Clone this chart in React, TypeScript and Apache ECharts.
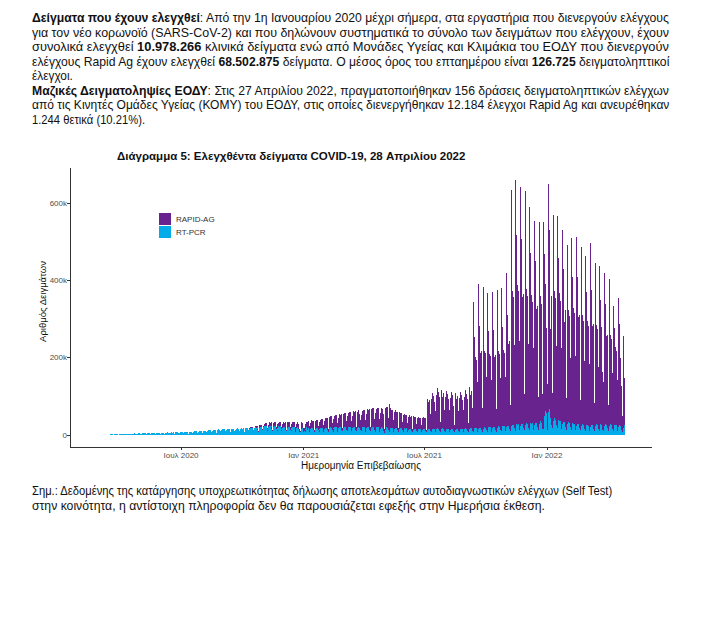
import React, { useEffect, useLayoutEffect, useRef } from "react";
import * as echarts from "echarts";

// ---------- DATA (daily counts, in thousands) ----------
const axisStart = "2020-01-17";
const axisEnd = "2022-06-07";
const pcrStart = "2020-02-26";
const rapidStart = "2020-10-12";

const xTickDates = ["2020-07-01", "2021-01-01", "2021-07-01", "2022-01-01"];
const xTickLabels = ["Ιουλ 2020", "Ιαν 2021", "Ιουλ 2021", "Ιαν 2022"];
const yTickValues = [0, 200000, 400000, 600000];
const yTickLabels = ["0", "200k", "400k", "600k"];

const seriesNames = ["RT-PCR", "RAPID-AG"];

// RT-PCR, from 26 Feb 2020 (rows are Mon..Sun weeks)
const pcr2020 = [
  0.1, 0.1, 0.2, 0.2, 0.1,
  0.2, 0.3, 0.3, 0.4, 0.5, 0.4, 0.3,
  0.6, 0.7, 0.9, 1.0, 1.1, 0.8, 0.5,
  1.2, 1.4, 1.5, 1.6, 1.5, 1.1, 0.8,
  1.7, 1.9, 2.0, 1.8, 2.1, 1.4, 1.0,
  2.2, 2.4, 2.6, 2.3, 2.5, 1.8, 1.2,
  2.8, 3.0, 2.9, 3.2, 3.1, 2.0, 1.4,
  2.5, 3.3, 3.5, 3.4, 3.6, 2.4, 1.6,
  3.2, 3.8, 4.0, 3.7, 3.9, 2.6, 1.8,
  3.6, 4.2, 4.4, 4.1, 3.5, 2.5, 1.7,
  4.0, 4.6, 4.8, 5.0, 4.7, 3.0, 2.0,
  4.5, 5.2, 5.4, 5.1, 5.3, 3.4, 2.2,
  4.8, 5.6, 5.3, 5.8, 5.5, 3.5, 2.4,
  5.0, 5.9, 6.1, 5.7, 6.0, 3.8, 2.5,
  5.2, 6.0, 6.3, 6.1, 5.8, 3.9, 2.6,
  5.5, 6.4, 6.2, 6.6, 6.3, 4.0, 2.8,
  5.6, 6.5, 6.8, 6.4, 6.7, 4.2, 2.9,
  6.0, 7.0, 7.2, 6.9, 7.1, 4.5, 3.0,
  6.4, 7.5, 7.8, 7.3, 7.6, 4.9, 3.2,
  7.0, 8.2, 8.0, 8.5, 8.3, 5.4, 3.5,
  7.6, 8.8, 9.1, 8.7, 9.0, 5.8, 3.8,
  8.1, 9.3, 9.6, 9.0, 9.4, 6.1, 4.0,
  8.5, 9.8, 10.2, 9.7, 10.0, 6.5, 4.3,
  9.2, 10.6, 11.0, 10.4, 10.8, 7.0, 4.8,
  10.0, 11.8, 12.3, 11.5, 12.0, 7.9, 5.3,
  11.2, 13.1, 13.6, 12.8, 13.3, 8.6, 5.8,
  12.0, 14.0, 14.5, 13.7, 14.1, 9.2, 6.2,
  12.5, 14.6, 15.0, 14.2, 14.8, 9.6, 6.5,
  13.0, 15.2, 15.8, 14.9, 15.4, 10.0, 6.8,
  13.6, 15.9, 16.4, 15.5, 16.0, 10.5, 7.1,
  14.1, 16.5, 17.0, 16.1, 16.6, 10.9, 7.4,
  14.8, 17.2, 17.8, 16.8, 17.3, 11.3, 7.7,
  15.4, 18.0, 18.6, 17.6, 18.1, 11.8, 8.0,
  16.2, 18.9, 19.5, 18.4, 19.0, 12.4, 8.4,
  17.0, 19.8, 20.6, 19.4, 20.1, 13.1, 8.9,
  18.2, 21.2, 22.0, 20.7, 21.5, 14.0, 9.5,
  19.5, 22.8, 23.6, 22.3, 23.0, 15.0, 10.2,
  20.4, 23.8, 24.6, 23.2, 24.0, 15.6, 10.6,
  20.0, 23.4, 24.2, 22.8, 23.5, 15.3, 10.4,
  19.2, 22.4, 23.1, 21.9, 22.6, 14.7, 10.0,
  18.4, 21.5, 22.2, 21.0, 21.6, 14.1, 9.6,
  17.8, 20.8, 21.4, 20.3, 20.9, 13.6, 9.3,
  17.2, 20.1, 20.7, 19.6, 20.2, 13.2, 9.0,
  17.0, 19.8, 20.3, 16.5, 10.2, 8.0, 8.5,
  16.4, 19.0, 18.2, 12.0, 9.0, 11.5, 8.8,
];

// RT-PCR, weeks from Mon 4 Jan 2021
const pcr2021 = [
  16.8, 19.5, 13.0, 18.9, 19.4, 12.7, 8.6,
  16.5, 19.2, 19.8, 18.7, 19.3, 12.6, 8.5,
  16.0, 18.6, 19.1, 18.1, 18.7, 12.2, 8.3,
  15.7, 18.3, 18.9, 17.8, 18.4, 12.0, 8.1,
  16.2, 18.9, 19.5, 18.4, 19.0, 12.4, 8.4,
  17.0, 19.9, 20.5, 19.3, 20.0, 13.0, 8.8,
  17.5, 20.4, 21.0, 19.8, 20.5, 13.4, 9.0,
  18.0, 21.0, 21.6, 20.4, 21.1, 13.7, 9.3,
  18.3, 21.4, 22.0, 20.8, 21.5, 14.0, 9.5,
  18.6, 21.8, 22.5, 21.2, 21.9, 14.3, 9.7,
  18.4, 21.5, 22.1, 20.9, 21.6, 14.1, 9.5,
  18.0, 21.0, 21.7, 17.0, 20.5, 12.8, 9.2,
  17.5, 20.5, 21.1, 19.9, 20.6, 13.4, 9.0,
  17.9, 20.9, 21.5, 20.3, 21.0, 13.7, 9.2,
  17.6, 20.6, 21.2, 20.0, 20.7, 13.5, 9.1,
  17.2, 20.1, 20.7, 19.5, 20.2, 13.2, 8.9,
  16.8, 19.6, 20.2, 19.0, 15.5, 11.0, 6.5,
  14.0, 19.0, 19.6, 18.5, 19.1, 12.4, 8.4,
  16.5, 19.3, 19.9, 18.8, 19.4, 12.6, 8.5,
  16.0, 18.7, 19.3, 18.2, 18.8, 12.3, 8.3,
  15.4, 18.0, 18.6, 17.5, 18.1, 11.8, 8.0,
  14.8, 17.3, 17.8, 16.8, 17.4, 11.3, 7.7,
  14.2, 16.6, 17.1, 16.1, 16.7, 10.9, 7.4,
  13.7, 16.0, 16.5, 15.6, 16.1, 10.5, 7.1,
  13.2, 15.4, 15.9, 15.0, 15.5, 10.1, 6.9,
  13.0, 15.2, 15.6, 14.8, 15.3, 10.0, 6.8,
  13.5, 15.8, 16.3, 15.4, 15.9, 10.4, 7.0,
  14.2, 16.6, 17.1, 16.2, 16.7, 10.9, 7.4,
  14.6, 17.1, 17.6, 16.6, 17.2, 11.2, 7.6,
  14.4, 16.8, 17.3, 16.4, 16.9, 11.0, 7.5,
  14.0, 16.4, 16.9, 15.9, 16.5, 10.7, 7.3,
  13.6, 15.9, 16.4, 15.5, 12.0, 10.4, 7.0,
  13.4, 15.7, 16.2, 15.3, 15.8, 10.3, 7.0,
  13.8, 16.2, 16.7, 15.7, 16.3, 10.6, 7.2,
  14.4, 16.9, 17.4, 16.4, 17.0, 11.1, 7.5,
  15.0, 17.6, 18.1, 17.1, 17.7, 11.5, 7.8,
  16.0, 18.7, 19.2, 18.2, 18.8, 12.2, 8.3,
  16.5, 19.3, 19.9, 18.8, 19.4, 12.6, 8.5,
  16.8, 19.7, 20.3, 19.1, 19.8, 12.9, 8.7,
  17.2, 20.1, 20.7, 19.5, 20.2, 13.1, 8.9,
  17.6, 20.6, 21.2, 20.0, 20.7, 13.4, 9.1,
  18.4, 21.6, 22.2, 20.9, 21.6, 14.0, 9.5,
  19.5, 22.8, 23.5, 22.2, 22.9, 14.9, 10.1,
  21.0, 24.6, 25.3, 23.9, 24.7, 16.0, 10.9,
  22.5, 26.3, 27.1, 25.6, 26.4, 17.2, 11.6,
  23.8, 27.8, 28.7, 27.1, 27.9, 18.2, 12.3,
  24.6, 28.8, 29.6, 28.0, 28.8, 18.8, 12.7,
  25.2, 29.5, 30.4, 28.7, 29.6, 19.2, 13.0,
  25.8, 30.2, 31.1, 29.4, 30.3, 19.7, 13.3,
  26.5, 31.0, 31.9, 30.2, 31.1, 20.2, 13.7,
  29.0, 34.0, 36.5, 38.0, 30.0, 15.0, 16.0,
  38.0, 48.0, 62.0, 80.0, 58.0, 14.0, 22.0,
];

// RT-PCR, weeks from Mon 3 Jan 2022
const pcr2022 = [
  60.0, 80.0, 68.0, 45.0, 40.0, 26.0, 18.0,
  36.0, 42.0, 43.0, 40.0, 38.0, 25.0, 17.0,
  33.0, 39.0, 40.0, 37.0, 36.0, 23.0, 15.5,
  29.0, 34.0, 35.0, 33.0, 32.0, 21.0, 14.0,
  28.0, 32.0, 33.0, 31.0, 30.0, 19.5, 13.0,
  26.0, 30.0, 31.0, 29.0, 28.5, 18.5, 12.4,
  24.5, 28.5, 29.5, 27.8, 27.0, 17.5, 11.8,
  23.5, 27.2, 28.0, 26.5, 25.8, 16.8, 11.3,
  22.0, 25.8, 26.5, 25.0, 24.4, 15.8, 10.7,
  22.0, 25.0, 27.0, 25.5, 24.8, 16.0, 10.8,
  23.0, 26.8, 27.6, 26.0, 25.4, 16.5, 11.2,
  23.5, 27.3, 28.1, 26.5, 14.0, 16.8, 11.4,
  24.0, 28.0, 28.8, 27.2, 26.5, 17.2, 11.6,
  23.4, 27.3, 28.1, 26.5, 25.8, 16.8, 11.4,
  22.8, 26.6, 27.4, 25.8, 25.2, 16.3, 11.1,
  22.0, 25.8, 26.5, 24.0, 16.0, 12.0, 8.0,
  17.0, 24.0, 25.0,
];

// RAPID-AG, weeks from Mon 12 Oct 2020
const rapid2020 = [
  0.8, 1.2, 1.5, 1.4, 1.6, 0.9, 0.4,
  2.0, 2.6, 3.0, 2.8, 3.1, 1.8, 0.8,
  3.4, 4.1, 4.5, 4.3, 4.6, 2.6, 1.2,
  5.0, 6.2, 6.8, 6.5, 7.0, 4.0, 1.8,
  6.5, 7.8, 8.4, 8.1, 8.6, 5.0, 2.2,
  7.5, 9.0, 9.6, 9.2, 9.8, 5.8, 2.6,
  8.2, 9.8, 10.5, 10.0, 10.6, 6.3, 2.8,
  9.0, 10.8, 11.5, 11.0, 11.7, 6.9, 3.1,
  9.8, 11.7, 12.5, 12.0, 12.7, 7.5, 3.4,
  10.5, 12.6, 13.4, 12.9, 13.6, 8.0, 3.6,
  11.0, 13.2, 14.0, 11.0, 6.0, 3.0, 3.0,
  11.5, 13.8, 12.0, 6.0, 3.5, 7.5, 3.2,
];

// RAPID-AG, weeks from Mon 4 Jan 2021
const rapid2021 = [
  12.5, 15.0, 8.0, 15.5, 16.2, 9.5, 4.2,
  14.0, 16.8, 17.8, 17.2, 18.0, 10.6, 4.7,
  15.0, 18.0, 19.1, 18.4, 19.3, 11.4, 5.0,
  17.0, 20.4, 21.6, 20.8, 21.8, 12.9, 5.7,
  20.0, 24.0, 25.4, 24.5, 25.7, 15.2, 6.7,
  23.0, 27.6, 29.2, 28.2, 29.5, 17.4, 7.7,
  24.5, 29.4, 31.1, 30.0, 31.4, 18.5, 8.2,
  26.0, 31.2, 33.0, 31.8, 33.4, 19.6, 8.7,
  28.0, 33.6, 35.6, 34.3, 36.0, 21.2, 9.4,
  30.0, 36.0, 38.1, 36.7, 38.5, 22.7, 10.0,
  32.0, 38.4, 40.6, 39.1, 41.1, 24.2, 10.7,
  33.0, 39.6, 41.9, 28.0, 34.0, 25.0, 11.0,
  35.0, 42.0, 44.4, 42.8, 45.0, 26.5, 11.7,
  37.0, 44.4, 47.0, 45.2, 47.5, 28.0, 12.4,
  38.0, 45.6, 48.2, 46.4, 48.8, 28.8, 12.7,
  39.0, 46.8, 49.5, 47.7, 50.1, 29.5, 13.0,
  40.0, 48.0, 50.8, 48.9, 40.0, 25.0, 8.0,
  35.0, 50.0, 52.9, 51.0, 53.6, 31.6, 14.0,
  63.0, 50.0, 46.0, 44.0, 45.0, 27.0, 11.5,
  44.0, 46.0, 43.0, 41.0, 42.0, 25.0, 10.5,
  40.0, 42.0, 39.0, 37.0, 38.0, 22.5, 9.5,
  36.0, 38.0, 35.0, 33.5, 34.5, 20.5, 8.7,
  33.0, 35.0, 32.0, 30.5, 31.5, 18.8, 8.0,
  31.0, 33.0, 30.0, 28.5, 29.5, 17.6, 7.5,
  30.0, 31.5, 29.0, 27.5, 28.5, 17.0, 7.3,
  30.5, 32.0, 29.5, 28.0, 29.0, 17.3, 7.4,
  70.0, 78.0, 68.0, 75.0, 62.0, 45.0, 20.0,
  80.0, 92.0, 76.0, 84.0, 70.0, 51.0, 23.0,
  88.0, 104.0, 85.0, 96.0, 80.0, 57.0, 25.0,
  86.0, 100.0, 82.0, 93.0, 78.0, 55.0, 24.0,
  84.0, 98.0, 80.0, 91.0, 76.0, 54.0, 24.0,
  82.0, 96.0, 78.0, 88.0, 62.0, 50.0, 20.0,
  80.0, 94.0, 76.0, 86.0, 72.0, 52.0, 23.0,
  82.0, 96.0, 78.0, 88.0, 74.0, 53.0, 23.0,
  85.0, 100.0, 81.0, 91.0, 77.0, 55.0, 24.0,
  90.0, 106.0, 86.0, 97.0, 82.0, 58.0, 26.0,
  329, 235, 182, 172, 176, 124, 55,
  375, 262, 205, 193, 198, 140, 62,
  365, 258, 198, 188, 192, 136, 60,
  351, 248, 190, 180, 185, 130, 58,
  352, 250, 192, 182, 186, 131, 58,
  357, 252, 194, 184, 188, 133, 59,
  362, 256, 197, 186, 190, 134, 60,
  397, 285, 225, 212, 218, 150, 66,
  612, 470, 345, 320, 330, 215, 92,
  636, 490, 360, 335, 345, 225, 96,
  616, 478, 352, 328, 336, 220, 94,
  607, 470, 347, 323, 331, 216, 92,
  563, 440, 330, 306, 314, 205, 88,
  528, 420, 318, 296, 304, 198, 85,
  521, 415, 322, 300, 230, 90, 70,
  512, 420, 330, 310, 220, 75, 110,
];

// RAPID-AG, weeks from Mon 3 Jan 2022
const rapid2022 = [
  589, 450, 360, 230, 320, 200, 90,
  534, 420, 330, 308, 316, 205, 88,
  534, 418, 328, 305, 312, 203, 87,
  501, 395, 310, 260, 292, 190, 82,
  465, 368, 290, 272, 278, 180, 78,
  485, 380, 298, 280, 286, 185, 80,
  487, 380, 296, 278, 284, 184, 79,
  463, 362, 282, 265, 270, 176, 76,
  441, 345, 268, 252, 258, 168, 72,
  474, 350, 272, 256, 262, 170, 73,
  423, 330, 258, 242, 248, 160, 69,
  413, 322, 252, 237, 150, 120, 67,
  396, 310, 242, 228, 232, 150, 65,
  380, 298, 232, 218, 222, 144, 62,
  312, 250, 200, 188, 192, 125, 54,
  333, 262, 205, 175, 110, 70, 40,
  238, 180, 123,
];

// ---------- helpers ----------
const DAY = 86400000;
const toMs = (iso: string) => Date.parse(iso + "T00:00:00Z");
const toIso = (ms: number) => new Date(ms).toISOString().slice(0, 10);

function buildCategories(): string[] {
  const out: string[] = [];
  for (let t = toMs(axisStart); t <= toMs(axisEnd); t += DAY) out.push(toIso(t));
  return out;
}

function alignSeries(cats: string[], start: string, values: number[]) {
  const offset = Math.round((toMs(start) - toMs(axisStart)) / DAY);
  return cats.map((_, i) => {
    const k = i - offset;
    return k >= 0 && k < values.length ? Math.round(values[k] * 1000) : null;
  });
}

const FONT = "'Liberation Sans', Arial, sans-serif";
const DOC_FONT = "'Liberation Sans', Arial, sans-serif";

function Chart() {
  const ref = useRef<HTMLDivElement>(null);
  useEffect(() => {
    if (!ref.current) return;
    const chart = echarts.init(ref.current, null, { renderer: "svg" });
    const cats = buildCategories();
    const pcrData = alignSeries(cats, pcrStart, [...pcr2020, ...pcr2021, ...pcr2022]);
    const rapidData = alignSeries(cats, rapidStart, [...rapid2020, ...rapid2021, ...rapid2022]);
    const isTick = (_i: number, v: string) => xTickDates.indexOf(v) >= 0;

    chart.setOption({
      animation: false,
      title: {
        text: "Διάγραμμα 5: Ελεγχθέντα δείγματα COVID-19, 28 Απριλίου 2022",
        left: 117,
        top: 150,
        padding: 0,
        textStyle: { fontFamily: FONT, fontSize: 11.5, fontWeight: "bold", color: "#111" },
      },
      legend: {
        data: ["RAPID-AG", "RT-PCR"],
        orient: "vertical",
        left: 159,
        top: 213,
        padding: 0,
        itemWidth: 12,
        itemHeight: 12,
        itemGap: 1,
        icon: "rect",
        textStyle: { fontFamily: FONT, fontSize: 8, color: "#333" },
      },
      grid: { left: 70, right: 52, top: 168, bottom: 185, containLabel: false },
      xAxis: {
        type: "category",
        data: cats,
        boundaryGap: true,
        name: "Ημερομηνία Επιβεβαίωσης",
        nameLocation: "middle",
        nameGap: 13,
        nameTextStyle: { fontFamily: FONT, fontSize: 10, color: "#111" },
        axisLine: { show: true, onZero: false, lineStyle: { color: "#333", width: 1 } },
        axisTick: { show: true, interval: isTick, alignWithLabel: true, length: 3, lineStyle: { color: "#333" } },
        axisLabel: {
          interval: isTick,
          margin: 4,
          fontFamily: FONT,
          fontSize: 8,
          color: "#4d4d4d",
          formatter: (v: string) => xTickLabels[xTickDates.indexOf(v)] ?? "",
        },
        splitLine: { show: false },
      },
      yAxis: {
        type: "value",
        min: -31000,
        max: 691000,
        name: "Αριθμός Δειγμάτων",
        nameLocation: "middle",
        nameMoveOverlap: false,
        nameGap: 23,
        nameTextStyle: { fontFamily: FONT, fontSize: 9.5, color: "#111", padding: [0, 0, 0, 12] },
        axisLine: { show: true, onZero: false, lineStyle: { color: "#333", width: 1 } },
        axisTick: { show: true, length: 3, customValues: yTickValues, lineStyle: { color: "#333" } },
        axisLabel: {
          customValues: yTickValues,
          margin: 3,
          fontFamily: FONT,
          fontSize: 8,
          color: "#4d4d4d",
          formatter: (v: number) => yTickLabels[yTickValues.indexOf(v)] ?? "",
        },
        splitLine: { show: false },
      },
      series: [
        {
          name: seriesNames[0],
          type: "bar",
          stack: "total",
          data: pcrData,
          barCategoryGap: "0%",
          barMinWidth: 0,
          itemStyle: { color: "#03ACE8" },
        },
        {
          name: seriesNames[1],
          type: "bar",
          stack: "total",
          data: rapidData,
          barCategoryGap: "0%",
          barMinWidth: 0,
          itemStyle: { color: "#68238E" },
        },
      ],
    });
    return () => chart.dispose();
  }, []);
  return (
    <div
      id="chartbox"
      ref={ref}
      style={{ position: "absolute", left: 0, top: 0, width: 704, height: 632 }}
    />
  );
}

const ROW: React.CSSProperties = { height: 14.5, lineHeight: "14.5px", whiteSpace: "nowrap" };
const SPAN: React.CSSProperties = { display: "inline-block", transformOrigin: "0 50%" };

function Line({ w, children }: { w: number; children: React.ReactNode }) {
  return (
    <div style={ROW}>
      <span data-fit={w} style={SPAN}>{children}</span>
    </div>
  );
}

export default function App() {
  const rootRef = useRef<HTMLDivElement>(null);
  useLayoutEffect(() => {
    const root = rootRef.current;
    if (!root) return;
    root.querySelectorAll<HTMLElement>("[data-fit]").forEach((el) => {
      const target = Number(el.dataset.fit);
      const natural = el.offsetWidth;
      if (natural > 0) el.style.transform = `scaleX(${target / natural})`;
    });
  }, []);

  return (
    <div
      ref={rootRef}
      style={{ position: "absolute", left: 0, top: 0, width: 704, height: 632, background: "#fff", overflow: "hidden" }}
    >
      <style>{`#chartbox svg path{shape-rendering:crispEdges}`}</style>
      <Chart />
      <div
        style={{
          position: "absolute",
          left: 32,
          top: 11,
          fontFamily: DOC_FONT,
          fontSize: 13,
          color: "#111",
        }}
      >
        <Line w={637}><b>Δείγματα που έχουν ελεγχθεί</b>: Από την 1η Ιανουαρίου 2020 μέχρι σήμερα, στα εργαστήρια που διενεργούν ελέγχους</Line>
        <Line w={637}>για τον νέο κορωνοϊό (SARS-CoV-2) και που δηλώνουν συστηματικά το σύνολο των δειγμάτων που ελέγχουν, έχουν</Line>
        <Line w={637}>συνολικά ελεγχθεί <b>10.978.266</b> κλινικά δείγματα ενώ από Μονάδες Υγείας και Κλιμάκια του ΕΟΔΥ που διενεργούν</Line>
        <Line w={637}>ελέγχους Rapid Ag έχουν ελεγχθεί <b>68.502.875</b> δείγματα. Ο μέσος όρος του επταημέρου είναι <b>126.725</b> δειγματοληπτικοί</Line>
        <Line w={41}>έλεγχοι.</Line>
        <Line w={637}><b>Μαζικές Δειγματοληψίες ΕΟΔΥ</b>: Στις 27 Απριλίου 2022, πραγματοποιήθηκαν 156 δράσεις δειγματοληπτικών ελέγχων</Line>
        <Line w={637}>από τις Κινητές Ομάδες Υγείας (ΚΟΜΥ) του ΕΟΔΥ, στις οποίες διενεργήθηκαν 12.184 έλεγχοι Rapid Ag και ανευρέθηκαν</Line>
        <Line w={113}>1.244 θετικά (10.21%).</Line>
      </div>
      <div
        style={{
          position: "absolute",
          left: 32,
          top: 484,
          fontFamily: DOC_FONT,
          fontSize: 13,
          color: "#111",
        }}
      >
        <Line w={580}>Σημ.: Δεδομένης της κατάργησης υποχρεωτικότητας δήλωσης αποτελεσμάτων αυτοδιαγνωστικών ελέγχων (Self Test)</Line>
        <Line w={513}>στην κοινότητα, η αντίστοιχη πληροφορία δεν θα παρουσιάζεται εφεξής στην Ημερήσια έκθεση.</Line>
      </div>
    </div>
  );
}
